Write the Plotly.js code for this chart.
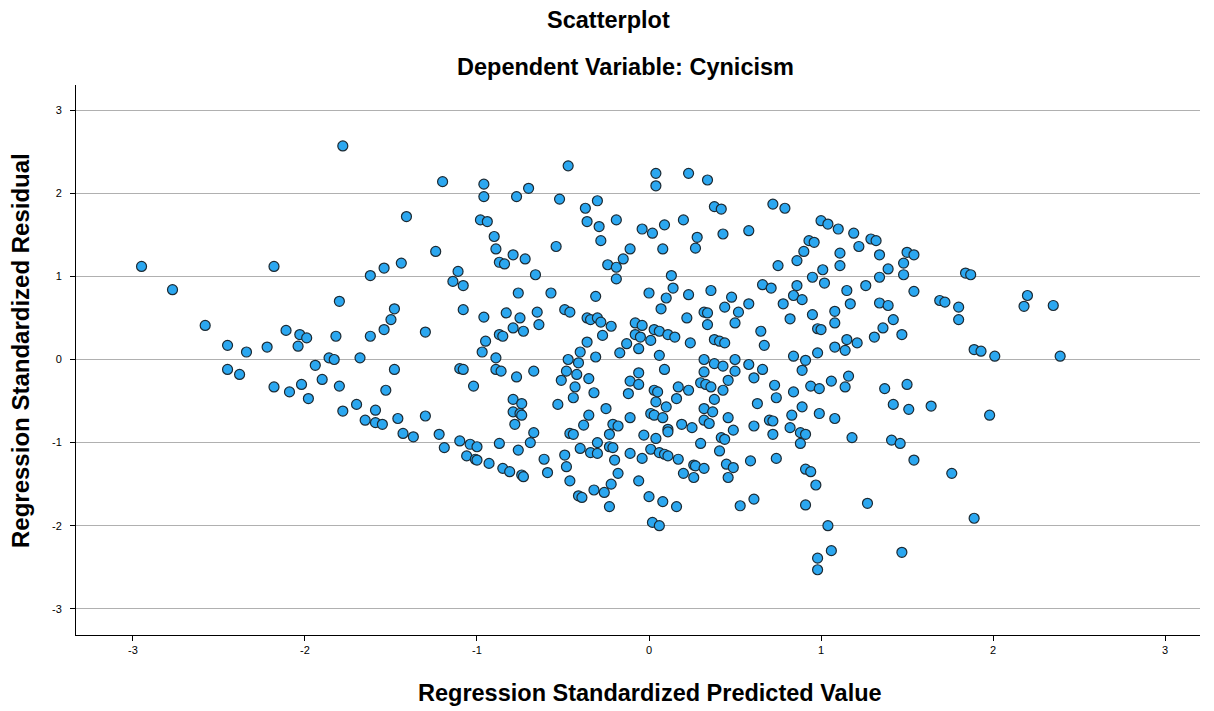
<!DOCTYPE html>
<html>
<head>
<meta charset="utf-8">
<script src="https://cdn.plot.ly/plotly-3.0.1.min.js"></script>
<style>
  html, body { margin: 0; padding: 0; background: #ffffff; }
  #chart { width: 1214px; height: 711px; }
</style>
</head>
<body>
<div id="chart"></div>
<script>
// Regression standardized predicted values (x) and standardized residuals (y)
const predicted = [
  -2.95,-2.77,-2.58,-2.45,-2.45,-2.38,-2.34,-2.22,-2.18,-2.18,-2.11,-2.09,-2.04,-2.03,-2.02,-1.99,-1.98,-1.94,-1.90,-1.86,
  -1.83,-1.82,-1.80,-1.80,-1.78,-1.78,-1.70,-1.68,-1.65,-1.62,-1.62,-1.59,-1.59,-1.55,-1.54,-1.54,-1.53,-1.50,-1.48,-1.48,
  -1.46,-1.44,-1.43,-1.41,-1.37,-1.30,-1.30,-1.24,-1.22,-1.20,-1.19,-1.14,-1.11,-1.10,-1.08,-1.10,-1.08,-1.08,-1.06,-1.04,
  -1.02,-1.00,-1.01,-1.00,-0.98,-0.97,-0.96,-0.96,-0.96,-0.95,-0.94,-0.93,-0.90,-0.89,-0.89,-0.89,-0.87,-0.87,-0.87,-0.86,
  -0.85,-0.85,-0.84,-0.83,-0.81,-0.79,-0.79,-0.79,-0.79,-0.78,-0.77,-0.77,-0.76,-0.76,-0.75,-0.75,-0.74,-0.74,-0.74,-0.73,
  -0.73,-0.72,-0.70,-0.69,-0.67,-0.67,-0.66,-0.65,-0.64,-0.61,-0.59,-0.57,-0.54,-0.53,-0.52,-0.51,-0.49,-0.49,-0.48,-0.48,
  -0.47,-0.47,-0.46,-0.46,-0.46,-0.44,-0.44,-0.43,-0.42,-0.41,-0.41,-0.40,-0.40,-0.39,-0.38,-0.37,-0.36,-0.36,-0.36,-0.35,
  -0.35,-0.34,-0.34,-0.32,-0.32,-0.31,-0.31,-0.30,-0.30,-0.30,-0.30,-0.29,-0.28,-0.28,-0.27,-0.26,-0.25,-0.24,-0.23,-0.23,
  -0.22,-0.23,-0.22,-0.21,-0.21,-0.20,-0.19,-0.19,-0.19,-0.18,-0.18,-0.17,-0.15,-0.13,-0.12,-0.11,-0.11,-0.11,-0.11,-0.08,
  -0.08,-0.06,-0.06,-0.06,-0.06,-0.05,-0.04,-0.04,-0.04,-0.03,
  0.00,0.00,0.01,0.01,0.01,0.02,0.02,0.03,0.03,0.03,0.04,0.04,0.04,0.04,0.05,0.06,0.06,0.06,0.06,0.07,
  0.08,0.08,0.08,0.09,0.09,0.09,0.10,0.10,0.11,0.11,0.11,0.11,0.13,0.14,0.15,0.16,0.16,0.17,0.17,0.19,
  0.20,0.20,0.22,0.23,0.23,0.23,0.24,0.25,0.26,0.26,0.27,0.27,0.28,0.30,0.30,0.32,0.32,0.32,0.32,0.32,
  0.32,0.33,0.34,0.34,0.34,0.35,0.36,0.36,0.37,0.38,0.38,0.38,0.38,0.41,0.41,0.42,0.42,0.43,0.43,0.43,
  0.44,0.44,0.44,0.45,0.46,0.46,0.46,0.48,0.49,0.49,0.50,0.50,0.50,0.52,0.53,0.58,0.58,0.58,0.59,0.61,
  0.61,0.61,0.63,0.65,0.66,0.66,0.67,0.70,0.71,0.72,0.72,0.72,0.73,0.74,0.74,0.75,0.78,0.79,0.82,0.82,
  0.83,0.84,0.84,0.84,0.86,0.86,0.88,0.88,0.89,0.89,0.89,0.90,0.91,0.91,0.91,0.91,0.93,0.94,0.94,0.95,
  0.95,0.96,0.97,0.98,0.98,0.98,0.98,0.99,0.99,1.00,1.00,1.01,1.02,1.04,1.04,1.06,1.06,1.08,1.08,1.08,
  1.08,1.10,1.11,1.11,1.14,1.14,1.15,1.15,1.16,1.17,1.18,1.19,1.21,1.22,1.26,1.27,1.29,1.31,1.32,1.34,
  1.34,1.34,1.36,1.37,1.39,1.39,1.41,1.42,1.42,1.46,1.47,1.47,1.48,1.48,1.50,1.50,1.51,1.54,1.54,1.54,
  1.64,1.69,1.72,1.76,1.80,1.80,1.84,1.87,1.89,1.89,1.93,1.98,2.01,2.18,2.20,2.35,2.39
];
const residual = [
  1.12,0.84,0.41,0.17,-0.12,-0.18,0.09,0.15,1.12,-0.33,0.35,-0.39,0.16,0.30,-0.30,0.26,-0.47,-0.07,-0.24,0.02,
  0.00,0.28,0.70,-0.32,2.57,-0.62,-0.54,0.02,-0.73,1.01,0.28,-0.61,-0.76,-0.78,1.10,0.36,-0.37,0.48,0.61,-0.12,
  -0.71,1.16,-0.89,1.72,-0.93,0.33,-0.68,1.30,-0.90,2.14,-1.06,0.94,1.06,-0.11,-0.12,-0.98,0.89,0.60,-1.16,-1.02,
  -0.32,-1.05,-1.20,-1.21,1.68,0.09,2.11,1.96,0.51,0.22,1.66,-1.25,1.48,1.33,0.02,-0.12,1.17,0.30,-1.01,-0.14,
  0.28,-1.31,1.15,0.56,-1.35,1.26,0.38,-0.48,-0.63,-0.78,1.96,-0.21,0.80,-1.09,0.50,-0.65,-0.53,-0.67,-1.39,0.34,
  -1.41,1.21,2.06,-1.00,-0.14,-0.88,1.02,0.57,0.42,-1.20,-1.36,0.80,1.36,-0.54,1.93,-0.25,0.60,-1.15,-0.14,-1.29,
  2.33,0.00,0.57,-0.89,-1.46,-0.46,-0.90,-0.33,-0.18,-0.04,-1.64,0.09,-1.07,-1.66,-0.79,1.82,1.66,0.50,0.21,-0.23,
  -0.67,0.48,-1.12,-0.40,-1.57,0.76,0.03,1.91,0.50,-1.00,-1.13,1.60,1.43,0.45,0.29,-1.60,-0.59,1.14,-0.90,-1.05,
  -1.50,-1.77,0.40,-0.78,-1.06,-1.21,1.68,1.11,0.97,-0.80,-1.37,0.08,1.21,0.19,-0.41,1.33,-0.26,-0.70,-1.13,0.44,
  0.30,0.13,-0.16,-0.30,-1.46,0.27,1.57,0.41,-1.19,-0.91,
  0.80,-1.65,0.23,-0.65,-1.08,1.52,-1.96,0.36,-0.37,-0.67,2.24,2.09,-0.51,-0.95,-0.39,0.34,0.05,-1.12,-2.00,0.61,
  1.33,-0.70,-1.71,1.62,-0.12,-1.14,0.74,-0.57,0.30,-0.84,-0.87,-1.16,1.01,0.86,0.27,-0.47,-1.77,-0.33,-1.20,-0.78,
  1.68,-1.37,0.50,2.24,0.78,-0.37,0.20,-0.82,-1.27,-1.42,1.34,-1.28,1.47,-0.28,-1.01,0.57,0.00,-0.15,-0.59,-0.73,
  -1.31,-0.30,2.16,0.56,0.42,-0.77,0.83,-0.33,-0.63,1.84,0.24,-0.05,-0.48,0.22,-1.10,1.81,-0.94,1.51,-0.08,-0.37,
  0.63,0.20,-0.96,-1.26,-0.25,-0.70,-1.42,0.75,-0.85,-1.30,0.44,0.00,-0.14,0.57,-1.76,1.55,0.67,-0.06,-1.22,-0.22,
  -0.80,-1.68,-0.53,0.34,0.90,-0.12,0.17,-0.73,0.86,1.87,-0.74,-0.90,-0.31,-0.46,-1.19,1.13,0.67,1.82,0.49,-0.82,
  -0.67,0.77,0.04,-0.39,1.19,0.89,-0.88,-1.01,0.72,-0.13,-0.57,1.30,-0.01,-0.90,-1.32,-1.75,1.43,-0.32,-1.35,0.99,
  0.54,1.41,-1.51,0.37,0.08,-2.39,-2.53,-0.35,-0.65,1.67,0.36,1.08,0.92,1.63,-2.00,-0.26,-2.30,0.58,0.44,0.15,
  -0.71,1.57,1.28,1.13,0.11,-0.33,0.83,0.24,-0.20,0.67,-0.94,1.52,0.20,1.36,0.89,-1.73,1.45,0.27,1.43,1.26,
  0.99,0.68,0.38,-0.35,1.09,0.65,-0.97,0.48,-0.54,-1.01,0.30,-2.32,1.16,1.02,1.29,-0.30,-0.60,1.26,0.82,-1.21,
  -0.56,0.71,0.69,-1.37,0.63,0.48,1.04,1.02,0.12,-1.91,0.10,-0.67,0.04,0.64,0.77,0.65,0.04
];

const xTicks = [-3, -2, -1, 0, 1, 2, 3];
const yTicks = [-3, -2, -1, 0, 1, 2, 3];

const chartTitle = 'Scatterplot';
const chartSubtitle = 'Dependent Variable: Cynicism';
const xTitle = 'Regression Standardized Predicted Value';
const yTitle = 'Regression Standardized Residual';

const fontFamily = 'Arial, "Liberation Sans", Helvetica, sans-serif';
const titleSize = 23.5;

const trace = {
  type: 'scatter',
  mode: 'markers',
  x: predicted,
  y: residual,
  marker: {
    size: 10,
    color: '#2ba7f0',
    line: { color: '#1c2a33', width: 1.2 }
  },
  hoverinfo: 'x+y'
};

// convert page pixel positions to paper coordinates of the plot area
const L = 76, T = 85, W = 1124, H = 550;
const px = v => (v - L) / W;
const py = v => (T + H - v) / H;

const layout = {
  width: 1214,
  height: 711,
  margin: { l: 76, r: 14, t: 85, b: 76 },
  paper_bgcolor: '#ffffff',
  plot_bgcolor: '#ffffff',
  showlegend: false,
  font: { family: fontFamily, color: '#000000', size: 11 },
  xaxis: {
    range: [-3.331, 3.203],
    tickvals: xTicks,
    ticktext: xTicks.map(String),
    showgrid: false,
    zeroline: false,
    showline: true,
    linecolor: '#000000',
    linewidth: 1,
    ticks: 'outside',
    ticklen: 5,
    tickcolor: '#000000',
    tickfont: { family: fontFamily, size: 11, color: '#000000' },
    fixedrange: true
  },
  yaxis: {
    range: [-3.315, 3.303],
    tickvals: yTicks,
    ticktext: yTicks.map(String),
    showgrid: true,
    gridcolor: '#b0b0b0',
    gridwidth: 1,
    zeroline: false,
    showline: true,
    linecolor: '#000000',
    linewidth: 1,
    ticks: 'outside',
    ticklen: 5,
    tickcolor: '#000000',
    ticklabelstandoff: 6,
    tickfont: { family: fontFamily, size: 11, color: '#000000' },
    fixedrange: true
  },
  annotations: [
    { text: '<b>' + chartTitle + '</b>', xref: 'paper', yref: 'paper',
      x: px(608), y: py(20), xanchor: 'center', yanchor: 'middle',
      showarrow: false, font: { family: fontFamily, size: titleSize, color: '#000000' } },
    { text: '<b>' + chartSubtitle + '</b>', xref: 'paper', yref: 'paper',
      x: px(625), y: py(67), xanchor: 'center', yanchor: 'middle',
      showarrow: false, font: { family: fontFamily, size: titleSize, color: '#000000' } },
    { text: '<b>' + xTitle + '</b>', xref: 'paper', yref: 'paper',
      x: px(649.5), y: py(693), xanchor: 'center', yanchor: 'middle',
      showarrow: false, font: { family: fontFamily, size: titleSize, color: '#000000' } },
    { text: '<b>' + yTitle + '</b>', xref: 'paper', yref: 'paper',
      x: px(20), y: py(351), xanchor: 'center', yanchor: 'middle',
      textangle: -90, showarrow: false, font: { family: fontFamily, size: 24, color: '#000000' } }
  ]
};

Plotly.newPlot('chart', [trace], layout, { displayModeBar: false, staticPlot: true });
</script>
</body>
</html>
